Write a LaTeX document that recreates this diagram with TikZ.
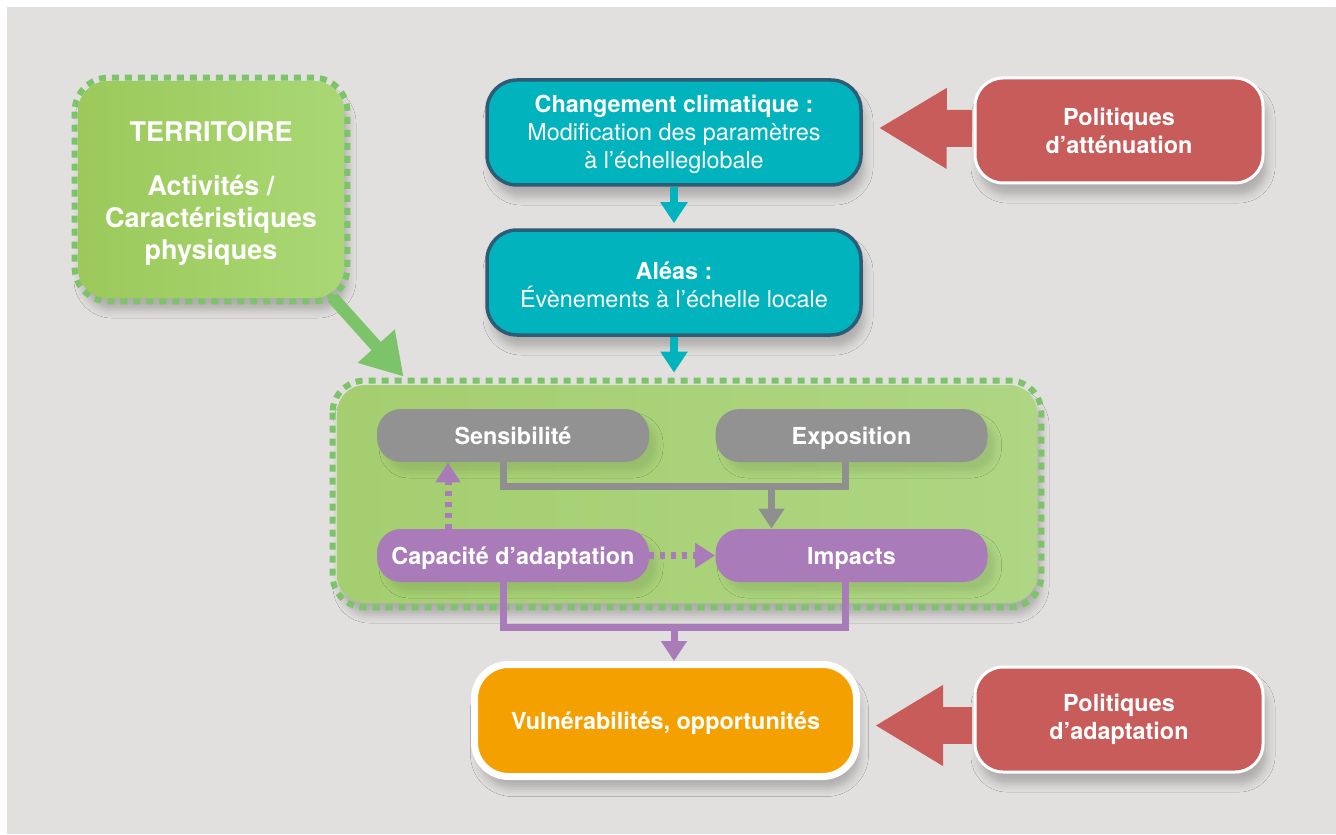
\documentclass[tikz,border=0pt]{standalone}
\usepackage{fontspec}
\setsansfont{TeX Gyre Heros}
\usetikzlibrary{arrows.meta,calc,shadows.blur}
\tikzset{every picture/.style={/utils/exec={\sffamily}}}
\definecolor{fondgris}{HTML}{E2E0DE}
\definecolor{turquoise}{HTML}{00B3BC}
\definecolor{bleunuit}{HTML}{2E5B75}
\definecolor{rouge}{HTML}{C85C5A}
\definecolor{vertA}{HTML}{9CC95A}
\definecolor{vertB}{HTML}{A9D774}
\definecolor{vertC}{HTML}{A4CE6F}
\definecolor{vertD}{HTML}{AED683}
\definecolor{vertpointille}{HTML}{7DC36A}
\definecolor{grispilule}{HTML}{929292}
\definecolor{grislien}{HTML}{8F8F8F}
\definecolor{violet}{HTML}{A97BB8}
\definecolor{orange}{HTML}{F4A000}

\begin{document}
\begin{tikzpicture}[x=0.5pt, y=-0.5pt,
	ombre/.style={blur shadow={shadow xshift=2pt, shadow yshift=-6pt, shadow blur radius=4pt, shadow opacity=22}},
	texte/.style={text=white, align=center, inner sep=0pt, font=\fontsize{11.7}{14}\selectfont},
	ligne/.style={text height=8.5pt, text depth=0pt},
	climat/.style={texte, ombre, fill=turquoise, draw=bleunuit, line width=1.75pt, rounded corners=15pt, minimum width=187pt, minimum height=52.5pt},
	politique/.style={texte, ombre, fill=rouge, draw=white, line width=1.5pt, rounded corners=14pt, minimum width=144pt, minimum height=52.5pt, font=\fontsize{11.7}{14}\selectfont\bfseries},
	pilule/.style={texte, ligne, font=\fontsize{11.7}{14}\selectfont\bfseries, rounded corners=12pt, minimum width=136pt, minimum height=26.5pt, blur shadow={shadow xshift=4pt, shadow yshift=-5pt, shadow blur radius=3pt, shadow opacity=9}},
	pointille/.style={draw=vertpointille, line width=3pt, dash pattern=on 3.5pt off 3pt},
	lien/.style={line width=3.5pt},
	pointe/.style={-{Triangle[width=12.5pt,length=10pt]}},
	grossefleche/.style={draw=rouge, line width=18.5pt, -{Triangle[width=38pt,length=34pt]}}
	]
		% fond
		\useasboundingbox (0,0) rectangle (1336,834);
		\fill[white] (0,0) rectangle (1336,834);
		\fill[fondgris] (7,7) rectangle (1336,834);

		% territoire
		\node[texte, ombre, left color=vertA, right color=vertB, rounded corners=15pt, minimum width=133pt, minimum height=108.5pt,
			font=\fontsize{13.5}{16}\selectfont\bfseries] (terr) at (211,189.5)
			{\rule{0pt}{14pt}TERRITOIRE\\[11pt] Activités /\\ Caractéristiques\\ physiques};
		\draw[pointille, rounded corners=17pt] ([shift={(-3,-3)}]terr.north west) rectangle ([shift={(3,3)}]terr.south east);

		% zone centrale
		\node[ombre, left color=vertC, right color=vertD, rounded corners=14pt, minimum width=350pt, minimum height=109pt] (zone) at (687,494) {};
		\draw[pointille, rounded corners=16pt] ([shift={(-4,-4)}]zone.north west) rectangle ([shift={(4,4)}]zone.south east);

		% climat
		\node[climat] (cc) at (674,132.5) {\rule{0pt}{10.6pt}\textbf{Changement climatique :}\\ Modification des paramètres\\ à l’échelleglobale};
		\node[climat] (al) at (674,282.5) {\rule{0pt}{10.8pt}\textbf{Aléas :}\\ Évènements à l’échelle locale};

		% politiques
		\node[politique] (pa) at (1119,130.5) {Politiques\\ d’atténuation};
		\node[politique] (pb) at (1119,719.5) {Politiques\\ d’adaptation};

		% composantes
		\node[pilule, fill=grispilule] (sens) at (513,435.5) {Sensibilité};
		\node[pilule, fill=grispilule] (expo) at (851.5,435.5) {Exposition};
		\node[pilule, fill=violet] (capa) at (513,555.5) {Capacité d’adaptation};
		\node[pilule, fill=violet] (impa) at (851.5,555.5) {Impacts};

		% vulnerabilites
		\node[texte, ligne, ombre, fill=orange, draw=white, line width=3.5pt, rounded corners=17pt, minimum width=191pt, minimum height=56pt,
			font=\fontsize{11.7}{14}\selectfont\bfseries] (vuln) at (665.5,720.5) {Vulnérabilités, opportunités};

		% fleches
		\draw[grossefleche] ($(pa.west)+(-1.5,-2)$) -> ($(cc.east)+(16,-4.5)$);
		\draw[grossefleche] ($(pb.west)+(-1.5,6)$) -> ($(vuln.east)+(15,5)$);

		\draw[vertpointille, line width=6.25pt, -{Triangle[width=23.5pt,length=20.5pt]}] ($(terr.south east)+(-12,-1)$) -> ($(zone.north west)+(67,-8)$);

		\draw[turquoise, line width=4pt, -{Triangle[width=13pt,length=10.5pt]}] (cc.south) -> ($(al.north)+(0,-5)$);
		\draw[turquoise, line width=4pt, -{Triangle[width=13pt,length=10.5pt]}] (al.south) -> ($(al.south |- zone.north)+(0,-12)$);

		\coordinate (gjoin) at ($(impa.north)+(-80,-42)$);
		\draw[lien, grislien] ($(sens.south)+(-10,0)$) |- (gjoin) -| ($(expo.south)+(-6,0)$);
		\draw[lien, grislien, pointe] (gjoin) -> (gjoin |- impa.north);

		\coordinate (pjoin) at ($(vuln.north)+(8.5,-33.5)$);
		\draw[lien, violet] ($(capa.south)+(-10,0)$) |- (pjoin) -| ($(impa.south)+(-6,0)$);
		\draw[lien, violet, pointe] (pjoin) -> (pjoin |- vuln.north);

		\draw[lien, violet, dash pattern=on 2.5pt off 3pt, -{Triangle[width=12pt,length=10pt]}] ($(capa.north)+(-65,0)$) -> ($(sens.south)+(-65,0)$);
		\draw[lien, violet, dash pattern=on 2.5pt off 3pt, -{Triangle[width=12pt,length=10pt]}] (capa.east) -> (impa.west);
	\end{tikzpicture}
\end{document}
